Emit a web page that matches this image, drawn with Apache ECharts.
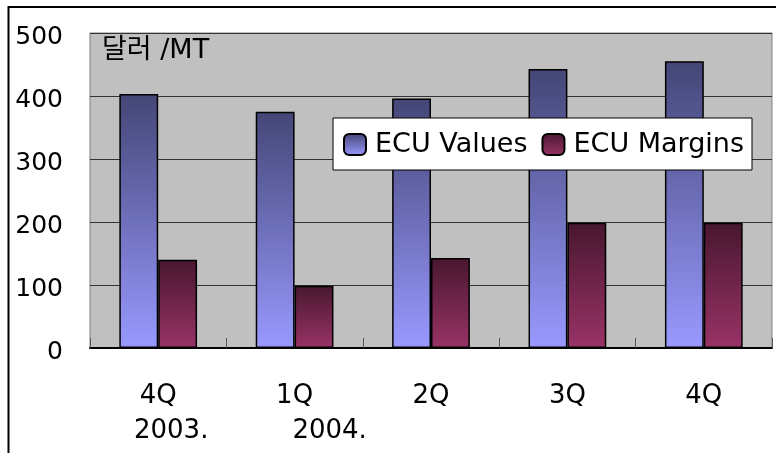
<!DOCTYPE html>
<html>
<head>
<meta charset="utf-8">
<script src="https://cdn.jsdelivr.net/npm/echarts@6/dist/echarts.min.js"></script>
<style>
html,body{margin:0;padding:0;background:#fff;}
#chart{width:776px;height:453px;}
</style>
</head>
<body>
<div id="chart"></div>
<script>
// Data
var categories = ["4Q\n2003.", "1Q\n2004.", "2Q", "3Q", "4Q"];
var ecuValues = [403, 375, 396, 443, 455];
var ecuMargins = [140, 99, 143, 199, 199];
var seriesNames = ["ECU Values", "ECU Margins"];
var unitLabel = "달러 /MT";
var yTicks = [0, 100, 200, 300, 400, 500];

// per-category second-line offset (visual quirk of the original)
var secondLineShift = [26, 70, 0, 0, 0];

var FONT = "DejaVu Sans, 'Noto Sans CJK KR', sans-serif";
var chart = echarts.init(document.getElementById('chart'), null, {renderer: 'canvas'});

function grad(top, bottom) {
  return new echarts.graphic.LinearGradient(0, 0, 0, 1, [
    {offset: 0, color: top}, {offset: 1, color: bottom}
  ]);
}

var option = {
  animation: false,
  backgroundColor: '#ffffff',
  graphic: [{
    type: 'rect',
    shape: {x: 8.5, y: 7, width: 900, height: 600},
    style: {fill: 'none', stroke: '#000', lineWidth: 2},
    silent: true
  }],
  title: {
    text: unitLabel,
    left: 102, top: 37,
    padding: 0,
    textStyle: {fontFamily: FONT, fontSize: 27, fontWeight: 'normal', color: '#000'}
  },
  legend: {
    data: seriesNames,
    left: 333, top: 118,
    orient: 'horizontal',
    backgroundColor: '#fff',
    borderColor: '#000',
    borderWidth: 1,
    padding: [13, 8, 12, 10],
    itemWidth: 22, itemHeight: 21,
    itemGap: 14,
    textStyle: {fontFamily: FONT, fontSize: 27, color: '#000', padding: [0, 0, 0, 4]}
  },
  grid: {
    left: 90, right: 4, top: 33, bottom: 105,
    show: true,
    backgroundColor: '#c0c0c0',
    borderColor: '#808080',
    borderWidth: 1,
    containLabel: false
  },
  xAxis: {
    type: 'category',
    data: categories,
    axisLine: {show: true, lineStyle: {color: '#000', width: 2}},
    axisTick: {show: true, inside: true, length: 10, lineStyle: {color: '#555', width: 1}},
    axisLabel: {
      margin: 31,
      interval: 0,
      formatter: function (v, i) {
        var parts = v.split('\n');
        var s = '{a|' + parts[0] + '}';
        if (parts.length > 1) {
          s += '\n{b' + i + '|' + parts[1] + '}';
        }
        return s;
      },
      rich: (function () {
        var r = {a: {fontFamily: FONT, fontSize: 26, color: '#000', lineHeight: 35}};
        for (var i = 0; i < secondLineShift.length; i++) {
          r['b' + i] = {fontFamily: FONT, fontSize: 26, color: '#000', lineHeight: 35,
                        padding: [0, 0, 0, secondLineShift[i]]};
        }
        return r;
      })()
    },
    splitLine: {show: false}
  },
  yAxis: {
    type: 'value',
    min: yTicks[0],
    max: yTicks[yTicks.length - 1],
    interval: 100,
    axisLine: {show: false},
    axisTick: {show: false},
    axisLabel: {
      margin: 27,
      fontFamily: FONT, fontSize: 25, color: '#000',
      verticalAlign: 'top',
      padding: [-8, 0, 0, 0]
    },
    splitLine: {show: true, lineStyle: {color: '#333', width: 1}}
  },
  series: [
    {
      name: seriesNames[0],
      type: 'bar',
      data: ecuValues,
      barGap: '0%',
      barCategoryGap: '43%',
      itemStyle: {color: grad('#444676', '#9999ff'), borderColor: '#000', borderWidth: 1.5}
    },
    {
      name: seriesNames[1],
      type: 'bar',
      data: ecuMargins,
      barGap: '0%',
      barCategoryGap: '43%',
      itemStyle: {color: grad('#48172f', '#993366'), borderColor: '#000', borderWidth: 1.5}
    }
  ]
};
chart.setOption(option);
</script>
</body>
</html>
